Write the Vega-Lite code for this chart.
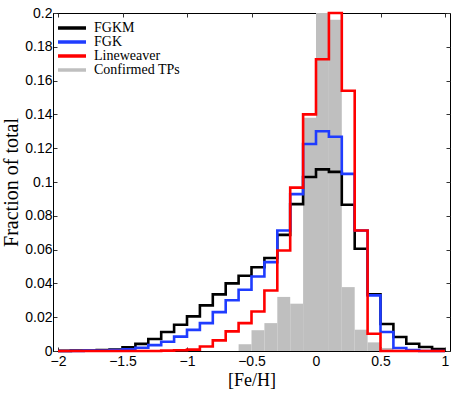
{
  "$schema": "https://vega.github.io/schema/vega-lite/v6.json",
  "width": 397,
  "height": 338,
  "autosize": {"type": "none"},
  "padding": {"left": 53, "top": 13, "right": 8, "bottom": 45},
  "background": "white",
  "config": {
    "view": {"stroke": "#000", "strokeWidth": 1},
    "axis": {
      "labelFont": "Liberation Sans",
      "labelFontSize": 14,
      "labelColor": "#000",
      "titleFont": "Liberation Serif",
      "titleFontSize": 18,
      "titleFontWeight": "normal",
      "titleColor": "#000",
      "domainColor": "#000",
      "tickColor": "#333",
      "grid": false
    }
  },
  "datasets": {
    "bars": [
      {"s": "Confirmed TPs", "x": -1.0, "x2": -0.9, "v": 0.0008},
      {"s": "Confirmed TPs", "x": -0.6, "x2": -0.5, "v": 0.004},
      {"s": "Confirmed TPs", "x": -0.5, "x2": -0.4, "v": 0.0123},
      {"s": "Confirmed TPs", "x": -0.4, "x2": -0.3, "v": 0.0165},
      {"s": "Confirmed TPs", "x": -0.3, "x2": -0.2, "v": 0.032},
      {"s": "Confirmed TPs", "x": -0.2, "x2": -0.1, "v": 0.028},
      {"s": "Confirmed TPs", "x": -0.1, "x2": 0.0, "v": 0.138},
      {"s": "Confirmed TPs", "x": 0.0, "x2": 0.1, "v": 0.23},
      {"s": "Confirmed TPs", "x": 0.1, "x2": 0.2, "v": 0.196},
      {"s": "Confirmed TPs", "x": 0.2, "x2": 0.3, "v": 0.0378},
      {"s": "Confirmed TPs", "x": 0.3, "x2": 0.4, "v": 0.0126},
      {"s": "Confirmed TPs", "x": 0.4, "x2": 0.5, "v": 0.0051},
      {"s": "Confirmed TPs", "x": 0.5, "x2": 0.6, "v": 0.0018}
    ],
    "lines": [
      {"s": "FGKM", "x": -2.0, "v": 0.0001},
      {"s": "FGKM", "x": -1.9, "v": 0.0002},
      {"s": "FGKM", "x": -1.8, "v": 0.0003},
      {"s": "FGKM", "x": -1.7, "v": 0.0005},
      {"s": "FGKM", "x": -1.6, "v": 0.0009},
      {"s": "FGKM", "x": -1.5, "v": 0.0022},
      {"s": "FGKM", "x": -1.4, "v": 0.0042},
      {"s": "FGKM", "x": -1.3, "v": 0.0071},
      {"s": "FGKM", "x": -1.2, "v": 0.0112},
      {"s": "FGKM", "x": -1.1, "v": 0.0155},
      {"s": "FGKM", "x": -1.0, "v": 0.0205},
      {"s": "FGKM", "x": -0.9, "v": 0.027},
      {"s": "FGKM", "x": -0.8, "v": 0.0335},
      {"s": "FGKM", "x": -0.7, "v": 0.040},
      {"s": "FGKM", "x": -0.6, "v": 0.0445},
      {"s": "FGKM", "x": -0.5, "v": 0.0496},
      {"s": "FGKM", "x": -0.4, "v": 0.055},
      {"s": "FGKM", "x": -0.3, "v": 0.0687},
      {"s": "FGKM", "x": -0.2, "v": 0.0869},
      {"s": "FGKM", "x": -0.1, "v": 0.103},
      {"s": "FGKM", "x": 0.0, "v": 0.1075},
      {"s": "FGKM", "x": 0.1, "v": 0.106},
      {"s": "FGKM", "x": 0.2, "v": 0.0865},
      {"s": "FGKM", "x": 0.3, "v": 0.0605},
      {"s": "FGKM", "x": 0.4, "v": 0.0335},
      {"s": "FGKM", "x": 0.5, "v": 0.016},
      {"s": "FGKM", "x": 0.6, "v": 0.0083},
      {"s": "FGKM", "x": 0.7, "v": 0.0043},
      {"s": "FGKM", "x": 0.8, "v": 0.0024},
      {"s": "FGKM", "x": 0.9, "v": 0.0012},
      {"s": "FGKM", "x": 1.0, "v": 0.0012},
      {"s": "FGK", "x": -2.0, "v": 0.0},
      {"s": "FGK", "x": -1.9, "v": 0.0001},
      {"s": "FGK", "x": -1.8, "v": 0.0002},
      {"s": "FGK", "x": -1.7, "v": 0.0003},
      {"s": "FGK", "x": -1.6, "v": 0.0005},
      {"s": "FGK", "x": -1.5, "v": 0.001},
      {"s": "FGK", "x": -1.4, "v": 0.0019},
      {"s": "FGK", "x": -1.3, "v": 0.0035},
      {"s": "FGK", "x": -1.2, "v": 0.0055},
      {"s": "FGK", "x": -1.1, "v": 0.0085},
      {"s": "FGK", "x": -1.0, "v": 0.0125},
      {"s": "FGK", "x": -0.9, "v": 0.0165},
      {"s": "FGK", "x": -0.8, "v": 0.023},
      {"s": "FGK", "x": -0.7, "v": 0.030},
      {"s": "FGK", "x": -0.6, "v": 0.0362},
      {"s": "FGK", "x": -0.5, "v": 0.0441},
      {"s": "FGK", "x": -0.4, "v": 0.0526},
      {"s": "FGK", "x": -0.3, "v": 0.0713},
      {"s": "FGK", "x": -0.2, "v": 0.0928},
      {"s": "FGK", "x": -0.1, "v": 0.1225},
      {"s": "FGK", "x": 0.0, "v": 0.130},
      {"s": "FGK", "x": 0.1, "v": 0.1268},
      {"s": "FGK", "x": 0.2, "v": 0.1048},
      {"s": "FGK", "x": 0.3, "v": 0.0713},
      {"s": "FGK", "x": 0.4, "v": 0.0329},
      {"s": "FGK", "x": 0.5, "v": 0.0112},
      {"s": "FGK", "x": 0.6, "v": 0.0018},
      {"s": "FGK", "x": 0.7, "v": 0.0006},
      {"s": "FGK", "x": 0.8, "v": 0.0},
      {"s": "FGK", "x": 0.9, "v": 0.0},
      {"s": "FGK", "x": 1.0, "v": 0.0},
      {"s": "Lineweaver", "x": -2.0, "v": 0.0},
      {"s": "Lineweaver", "x": -1.9, "v": 0.0},
      {"s": "Lineweaver", "x": -1.8, "v": 0.0},
      {"s": "Lineweaver", "x": -1.7, "v": 0.0},
      {"s": "Lineweaver", "x": -1.6, "v": 0.0},
      {"s": "Lineweaver", "x": -1.5, "v": 0.0},
      {"s": "Lineweaver", "x": -1.4, "v": 0.0},
      {"s": "Lineweaver", "x": -1.3, "v": 0.0},
      {"s": "Lineweaver", "x": -1.2, "v": 0.0002},
      {"s": "Lineweaver", "x": -1.1, "v": 0.0004},
      {"s": "Lineweaver", "x": -1.0, "v": 0.0008},
      {"s": "Lineweaver", "x": -0.9, "v": 0.0027},
      {"s": "Lineweaver", "x": -0.8, "v": 0.0063},
      {"s": "Lineweaver", "x": -0.7, "v": 0.0116},
      {"s": "Lineweaver", "x": -0.6, "v": 0.0165},
      {"s": "Lineweaver", "x": -0.5, "v": 0.0234},
      {"s": "Lineweaver", "x": -0.4, "v": 0.0358},
      {"s": "Lineweaver", "x": -0.3, "v": 0.0595},
      {"s": "Lineweaver", "x": -0.2, "v": 0.0967},
      {"s": "Lineweaver", "x": -0.1, "v": 0.14},
      {"s": "Lineweaver", "x": 0.0, "v": 0.1726},
      {"s": "Lineweaver", "x": 0.1, "v": 0.2},
      {"s": "Lineweaver", "x": 0.2, "v": 0.154},
      {"s": "Lineweaver", "x": 0.3, "v": 0.0713},
      {"s": "Lineweaver", "x": 0.4, "v": 0.0102},
      {"s": "Lineweaver", "x": 0.5, "v": 0.0},
      {"s": "Lineweaver", "x": 0.6, "v": 0.0},
      {"s": "Lineweaver", "x": 0.7, "v": 0.0},
      {"s": "Lineweaver", "x": 0.8, "v": 0.0},
      {"s": "Lineweaver", "x": 0.9, "v": 0.0},
      {"s": "Lineweaver", "x": 1.0, "v": 0.0}
    ]
  },
  "layer": [
    {
      "data": {"name": "bars"},
      "mark": {"type": "bar", "clip": true, "orient": "vertical"},
      "encoding": {
        "x": {
          "field": "x", "type": "quantitative",
          "scale": {"domain": [-2, 1], "nice": false, "zero": false},
          "axis": {"orient": "bottom", "title": "[Fe/H]", "values": [-2, -1.5, -1, -0.5, 0, 0.5, 1], "tickSize": -4, "labelPadding": 7, "titlePadding": 3, "format": "~g"}
        },
        "x2": {"field": "x2"},
        "y": {
          "field": "v", "type": "quantitative",
          "scale": {"domain": [0, 0.2], "nice": false},
          "axis": {"orient": "left", "title": "Fraction of total", "titleFontSize": 20, "values": [0, 0.02, 0.04, 0.06, 0.08, 0.1, 0.12, 0.14, 0.16, 0.18, 0.2], "tickSize": -4, "labelPadding": 5, "format": "~g", "titlePadding": 3}
        },
        "y2": {"datum": 0},
        "color": {
          "field": "s", "type": "nominal",
          "scale": {"domain": ["FGKM", "FGK", "Lineweaver", "Confirmed TPs"], "range": ["#000000", "#1f3cff", "#ff0000", "#bfbfbf"]},
          "legend": {
            "orient": "none", "legendX": 12, "legendY": 8, "title": null,
            "symbolType": "M-2.8,0H2.8", "symbolSize": 100, "symbolStrokeWidth": 3.5,
            "labelFont": "Liberation Serif", "labelFontSize": 14, "labelColor": "#000",
            "rowPadding": -12, "labelOffset": 15, "padding": 0
          }
        }
      }
    },
    {
      "data": {"name": "lines"},
      "mark": {"type": "line", "interpolate": "step-after", "strokeWidth": 2.6, "strokeJoin": "miter"},
      "encoding": {
        "x": {
          "field": "x", "type": "quantitative",
          "axis": {"orient": "top", "title": null, "labels": false, "values": [-2, -1.5, -1, -0.5, 0, 0.5, 1], "tickSize": -4, "domain": false}
        },
        "y": {
          "field": "v", "type": "quantitative",
          "axis": {"orient": "right", "title": null, "labels": false, "values": [0, 0.02, 0.04, 0.06, 0.08, 0.1, 0.12, 0.14, 0.16, 0.18, 0.2], "tickSize": -4, "domain": false}
        },
        "color": {"field": "s", "type": "nominal"}
      }
    }
  ],
  "resolve": {"axis": {"x": "independent", "y": "independent"}}
}
